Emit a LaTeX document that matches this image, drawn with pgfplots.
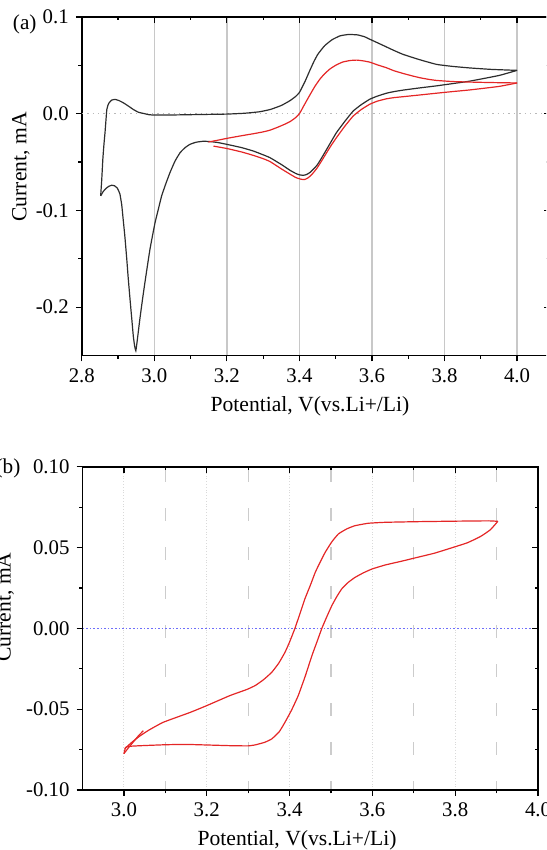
\documentclass[border=0pt]{standalone}
\usepackage{fontspec}
\setmainfont{Liberation Serif}
\usepackage{pgfplots}
\pgfplotsset{compat=1.18}
\definecolor{cvred}{RGB}{228,38,38}
\definecolor{cvblack}{RGB}{45,45,45}
\definecolor{zeroblue}{RGB}{110,110,250}
\definecolor{gridgray}{RGB}{200,200,200}
\pgfplotsset{
  cvbase/.style={
    scale only axis,
    axis line style={line width=0.9pt},
    /pgf/number format/assume math mode=true,
    tick label style={font=\fontsize{10.4}{12}\selectfont},
    label style={font=\fontsize{10.8}{13}\selectfont},
    major tick length=3pt, minor tick length=1.7pt,
    tick style={black, line width=0.6pt},
  },
  cvline/.style={line width=0.6pt, smooth, tension=0.25},
}
\begin{document}
\begin{tikzpicture}
\path[use as bounding box, clip] (0,0) rectangle (273pt,425pt);

% ---------------- panel (a) ----------------
\begin{axis}[cvbase,
  at={(40.9pt,247.25pt)}, anchor=south west,
  width=233.95pt, height=169.25pt,
  xmin=2.8, xmax=4.09, ymin=-0.25, ymax=0.1,
  xtick={2.8,3.0,3.2,3.4,3.6,3.8,4.0},
  minor xtick={2.9,3.1,3.3,3.5,3.7,3.9},
  ytick={-0.2,-0.1,0,0.1},
  minor ytick={-0.15,-0.05,0.05},
  xtick pos=bottom, ytick pos=left, tick align=outside,
  xticklabel style={/pgf/number format/.cd,fixed,fixed zerofill,precision=1},
  yticklabel style={/pgf/number format/.cd,fixed,fixed zerofill,precision=1},
  xmajorgrids, major x grid style={gridgray, line width=0.7pt},
  xlabel={Potential, V(vs.Li+/Li)},
  ylabel={Current, mA},
  x label style={at={(axis description cs:0.4877,-0.149)}, anchor=center},
  y label style={at={(axis description cs:-0.130,0.557)}, anchor=center},
  extra description/.code={\node[font=\fontsize{10.6}{12}\selectfont] at (axis description cs:-0.1220,0.978) {(a)};},
]
\addplot[gray!55, dotted, line width=0.7pt, forget plot] coordinates {(2.8,0) (4.09,0)};
% black, forward scan
\addplot[cvblack, cvline] coordinates {
(2.852,-0.085) (2.855,-0.068) (2.858,-0.047) (2.861,-0.032) (2.864,-0.0196) (2.869,0.0044)
(2.874,0.0105) (2.882,0.0140) (2.892,0.0148) (2.903,0.0135) (2.914,0.0114) (2.928,0.0080)
(2.942,0.0044) (2.956,0.0015) (2.97,0.0003) (2.985,-0.0010) (3.0,-0.0014) (3.05,-0.0013)
(3.1,-0.0010) (3.15,-0.0007) (3.2,-0.0004) (3.25,0.0005) (3.29,0.0020) (3.32,0.0044)
(3.35,0.0085) (3.374,0.0135) (3.39,0.0180) (3.40,0.022) (3.415,0.033) (3.429,0.045)
(3.44,0.054) (3.45,0.061) (3.46,0.066) (3.47,0.0705) (3.49,0.0765) (3.512,0.0805)
(3.535,0.0819) (3.56,0.0815) (3.58,0.0795) (3.594,0.0770) (3.62,0.0725) (3.64,0.0690)
(3.66,0.0655) (3.686,0.0613) (3.73,0.0560) (3.778,0.0510) (3.82,0.0490) (3.87,0.0473)
(3.93,0.0458) (4.0,0.0448)
};
% black, reverse scan
\addplot[cvblack, cvline] coordinates {
(4.0,0.0448) (3.95,0.0395) (3.87,0.0337) (3.82,0.0310) (3.778,0.0288) (3.73,0.0266) (3.686,0.0244)
(3.66,0.0228) (3.64,0.0212) (3.615,0.0182) (3.594,0.0150) (3.57,0.0092) (3.548,0.0027)
(3.525,-0.0080) (3.502,-0.0196) (3.488,-0.0285) (3.475,-0.0369) (3.46,-0.0465) (3.448,-0.0535)
(3.43,-0.0605) (3.42,-0.0628) (3.411,-0.0637) (3.40,-0.0632) (3.39,-0.0618) (3.374,-0.0585)
(3.35,-0.0525) (3.319,-0.0455) (3.30,-0.0425) (3.273,-0.0386) (3.24,-0.0350) (3.2,-0.0317)
(3.175,-0.0298) (3.153,-0.0288) (3.135,-0.0285) (3.115,-0.0295) (3.098,-0.0317) (3.085,-0.0350)
(3.071,-0.0403) (3.057,-0.0490) (3.043,-0.0610) (3.032,-0.0720) (3.02,-0.0851) (3.011,-0.0988)
(3.002,-0.1126) (2.995,-0.126) (2.988,-0.140) (2.981,-0.157) (2.974,-0.1746) (2.967,-0.193)
(2.96,-0.2125) (2.955,-0.228) (2.951,-0.240) (2.949,-0.245) (2.946,-0.241) (2.942,-0.230)
(2.938,-0.213) (2.933,-0.192) (2.928,-0.170) (2.924,-0.1505) (2.919,-0.128) (2.914,-0.109)
(2.910,-0.094) (2.905,-0.0830) (2.898,-0.0770) (2.89,-0.0745) (2.882,-0.0740) (2.874,-0.0752)
(2.866,-0.0775) (2.859,-0.0805) (2.852,-0.0850)
};
% red, forward scan
\addplot[cvred, cvline] coordinates {
(3.149,-0.0293) (3.175,-0.0274) (3.2,-0.0255) (3.24,-0.0228) (3.273,-0.0207) (3.30,-0.0188)
(3.319,-0.0170) (3.34,-0.0140) (3.36,-0.0108) (3.374,-0.0082) (3.388,-0.0045) (3.40,0.0)
(3.414,0.0095) (3.429,0.0195) (3.443,0.0285) (3.457,0.0360) (3.47,0.0415) (3.485,0.0465)
(3.502,0.0505) (3.52,0.0535) (3.54,0.0550) (3.558,0.0554) (3.575,0.0547) (3.594,0.0533)
(3.615,0.0505) (3.64,0.0475) (3.66,0.0445) (3.686,0.0416) (3.71,0.0392) (3.732,0.0372)
(3.755,0.0356) (3.778,0.0344) (3.82,0.0333) (3.87,0.0327) (3.93,0.0322) (4.0,0.0318)
};
% red, reverse scan
\addplot[cvred, cvline] coordinates {
(4.0,0.0318) (3.95,0.0282) (3.87,0.0246) (3.82,0.0228) (3.778,0.0212) (3.73,0.0193) (3.686,0.0176)
(3.66,0.0166) (3.64,0.0154) (3.615,0.0130) (3.594,0.0098) (3.57,0.0042) (3.548,-0.0025)
(3.525,-0.0130) (3.502,-0.0248) (3.488,-0.0325) (3.475,-0.0403) (3.46,-0.0495) (3.448,-0.0565)
(3.435,-0.0625) (3.425,-0.0660) (3.415,-0.0680) (3.405,-0.0678) (3.39,-0.0660) (3.374,-0.0625)
(3.35,-0.0570) (3.319,-0.0495) (3.30,-0.0465) (3.273,-0.0431) (3.24,-0.0395) (3.2,-0.0360)
(3.163,-0.0335)
};
\end{axis}
\begin{axis}[cvbase,
  at={(40.9pt,247.25pt)}, anchor=south west,
  width=233.95pt, height=169.25pt,
  xmin=2.8, xmax=4.09, ymin=-0.25, ymax=0.1,
  xtick={2.8,3.0,3.2,3.4,3.6,3.8,4.0},
  minor xtick={2.9,3.1,3.3,3.5,3.7,3.9},
  ytick={-0.2,-0.1,0,0.1},
  minor ytick={-0.15,-0.05,0.05},
  xtick pos=top, ytick pos=right, tick align=inside,
  xticklabels={}, yticklabels={},
  axis line style={draw=none},
]
\addplot[draw=none] coordinates {(3,0)};
\end{axis}

% ---------------- panel (b) ----------------
\begin{axis}[cvbase,
  at={(41.25pt,30pt)}, anchor=south west,
  width=227.75pt, height=161.65pt,
  xmin=2.9, xmax=4.0, ymin=-0.1, ymax=0.1,
  xtick={3.0,3.2,3.4,3.6,3.8,4.0},
  minor xtick={3.1,3.3,3.5,3.7,3.9},
  ytick={-0.1,-0.05,0,0.05,0.1},
  minor ytick={-0.075,-0.025,0.025,0.075},
  xtick pos=bottom, ytick pos=left, tick align=outside,
  xticklabel style={/pgf/number format/.cd,fixed,fixed zerofill,precision=1},
  yticklabel style={/pgf/number format/.cd,fixed,fixed zerofill,precision=2},
  xmajorgrids, major x grid style={gray!30, densely dotted, line width=0.5pt},
  xminorgrids, minor x grid style={gray!40, line width=0.6pt, dash pattern=on 6.5pt off 13pt, dash phase=2pt},
  xlabel={Potential, V(vs.Li+/Li)},
  ylabel={Current, mA},
  x label style={at={(axis description cs:0.471,-0.155)}, anchor=center},
  y label style={at={(axis description cs:-0.170,0.566)}, anchor=center},
  extra description/.code={\node[font=\fontsize{10.6}{12}\selectfont] at (axis description cs:-0.1636,0.995) {(b)};},
]
\addplot[zeroblue, densely dotted, line width=0.8pt, forget plot] coordinates {(2.9,0) (4.0,0)};
% tail
\addplot[cvred, cvline] coordinates {
(3.047,-0.0633) (3.035,-0.0665) (3.022,-0.0705) (3.01,-0.0742) (3.0,-0.0775)
};
% flat branch and right S-curve up to the vertex
\addplot[cvred, cvline] coordinates {
(3.0,-0.0775) (3.004,-0.0738) (3.012,-0.0730) (3.04,-0.0726) (3.1,-0.0720) (3.15,-0.0718) (3.206,-0.0722)
(3.26,-0.0726) (3.30,-0.0727) (3.317,-0.0721) (3.34,-0.0705) (3.357,-0.0684) (3.375,-0.0640)
(3.389,-0.0581) (3.405,-0.0505) (3.421,-0.0416) (3.438,-0.0295) (3.454,-0.0169) (3.466,-0.0085)
(3.478,0.0) (3.49,0.0072) (3.502,0.0140) (3.514,0.0196) (3.526,0.0244) (3.542,0.0285)
(3.558,0.0315) (3.578,0.0343) (3.599,0.0367) (3.631,0.0392) (3.67,0.0415) (3.71,0.0440)
(3.75,0.0465) (3.794,0.0500) (3.83,0.0530) (3.861,0.0568) (3.885,0.0610) (3.903,0.0662)
};
% plateau and left S-curve back to 3.0 V
\addplot[cvred, cvline] coordinates {
(3.903,0.0662) (3.88,0.0665) (3.80,0.0663) (3.71,0.0660) (3.631,0.0656) (3.59,0.0650) (3.558,0.0635)
(3.538,0.0615) (3.518,0.0584) (3.502,0.0535) (3.486,0.0470) (3.474,0.0410) (3.462,0.0346)
(3.45,0.0265) (3.437,0.0182) (3.425,0.0090) (3.413,0.0) (3.40,-0.0085) (3.389,-0.0148)
(3.374,-0.0215) (3.357,-0.0272) (3.337,-0.0318) (3.317,-0.0354) (3.297,-0.0378) (3.256,-0.0416)
(3.2,-0.0478) (3.16,-0.0520) (3.095,-0.0581) (3.06,-0.0630) (3.039,-0.0665) (3.02,-0.0703)
(3.006,-0.0735) (3.002,-0.0745)
};
\end{axis}
\begin{axis}[cvbase,
  at={(41.25pt,30pt)}, anchor=south west,
  width=227.75pt, height=161.65pt,
  xmin=2.9, xmax=4.0, ymin=-0.1, ymax=0.1,
  xtick={3.0,3.2,3.4,3.6,3.8,4.0},
  minor xtick={3.1,3.3,3.5,3.7,3.9},
  ytick={-0.1,-0.05,0,0.05,0.1},
  minor ytick={-0.075,-0.025,0.025,0.075},
  xtick pos=top, ytick pos=right, tick align=inside,
  xticklabels={}, yticklabels={},
  axis line style={draw=none},
]
\addplot[draw=none] coordinates {(3,0)};
\end{axis}
\end{tikzpicture}
\end{document}
